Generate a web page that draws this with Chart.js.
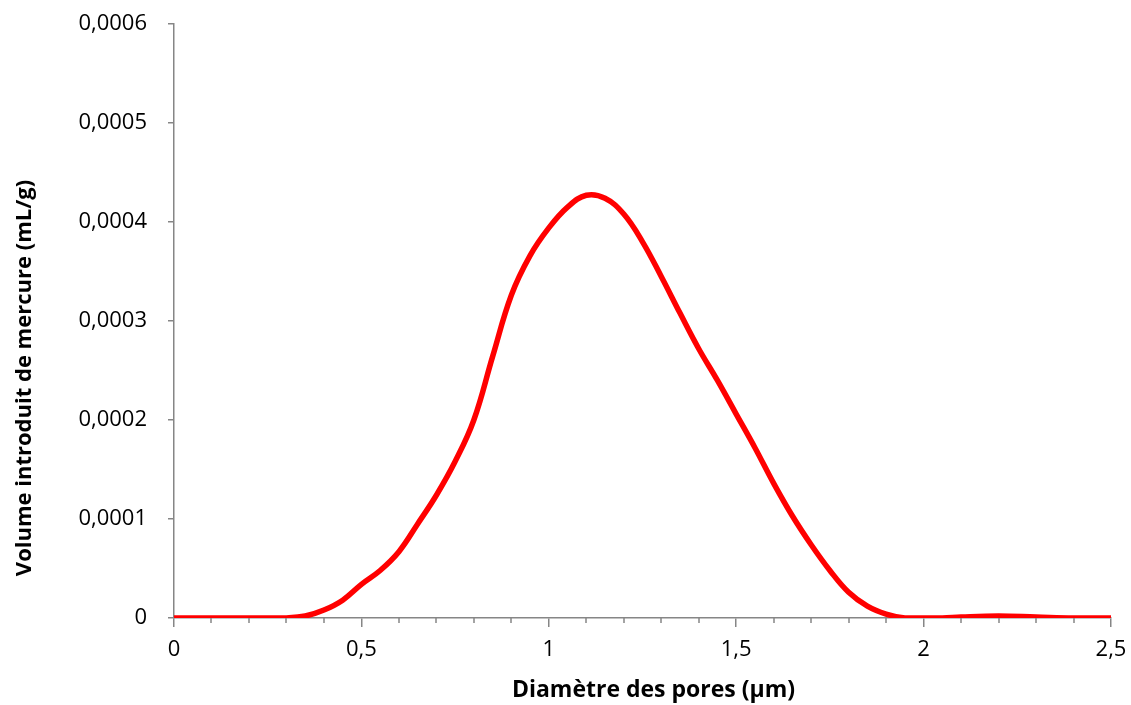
<!DOCTYPE html>
<html lang="fr">
<head>
<meta charset="utf-8">
<title>Volume introduit de mercure</title>
<script src="https://cdn.jsdelivr.net/npm/chart.js@4/dist/chart.umd.min.js"></script>
<style>
    html, body { margin: 0; padding: 0; background: #fff; }
    #wrap { width: 1131px; height: 705px; position: relative; }
</style>
</head>
<body>
<div id="wrap"><canvas id="poreChart"></canvas></div>
<script>
// Diamètre des pores (µm)
const diametres = [
    0, 0.05, 0.1, 0.15, 0.2, 0.25, 0.3, 0.35, 0.4, 0.45, 0.5, 0.55, 0.6, 0.65, 0.7,
    0.75, 0.8, 0.85, 0.9, 0.95, 1.0, 1.05, 1.1, 1.15, 1.2, 1.25, 1.3, 1.35, 1.4,
    1.45, 1.5, 1.55, 1.6, 1.65, 1.7, 1.75, 1.8, 1.85, 1.9, 1.95, 2.0, 2.05, 2.1,
    2.2, 2.3, 2.4, 2.5
];

// Volume introduit de mercure (mL/g)
const volumes = [
    0, 0, 0, 0, 0, 0, 0, 0.000002, 0.000008, 0.000018, 0.000034, 0.000048, 0.000067,
    0.000095, 0.000124, 0.000158, 0.000200, 0.000264, 0.000326, 0.000366, 0.000394,
    0.000415, 0.000427, 0.000424, 0.000408, 0.000380, 0.000345, 0.000308, 0.000272,
    0.000240, 0.000206, 0.000172, 0.000136, 0.000103, 0.000074, 0.000048, 0.000026,
    0.000012, 0.000004, 0, 0, 0, 0.000001, 0.000002, 0.000001, 0, 0
];

const xTickLabels = ['0', '0,5', '1', '1,5', '2', '2,5'];
const yTickLabels = ['0', '0,0001', '0,0002', '0,0003', '0,0004', '0,0005', '0,0006'];

const X_TITLE = 'Diamètre des pores (µm)';
const Y_TITLE = 'Volume introduit de mercure (mL/g)';

const AXIS_COLOR = '#868686';
const FONT_FAMILY = '"Open Sans", "Liberation Sans", sans-serif';

// petites graduations (tous les 0,1) sur l'axe des x
const minorTicks = {
    id: 'minorTicks',
    afterDraw(chart) {
        const xScale = chart.scales.x;
        const ctx = chart.ctx;
        const bottom = chart.chartArea.bottom;
        ctx.save();
        ctx.strokeStyle = AXIS_COLOR;
        ctx.lineWidth = 1.5;
        for (let i = 0; i <= 25; i++) {
            if (i % 5 === 0) continue;
            const px = Math.round(xScale.getPixelForValue(i / 10));
            ctx.beginPath();
            ctx.moveTo(px, bottom);
            ctx.lineTo(px, bottom + 5);
            ctx.stroke();
        }
        ctx.restore();
    }
};

// titres des axes (décalés comme dans Excel, pas tout à fait centrés)
const axisTitles = {
    id: 'axisTitles',
    afterDraw(chart) {
        const { ctx, chartArea } = chart;
        const midX = (chartArea.left + chartArea.right) / 2;
        const midY = (chartArea.top + chartArea.bottom) / 2;
        ctx.save();
        ctx.fillStyle = '#000';
        ctx.textAlign = 'center';
        ctx.textBaseline = 'middle';

        ctx.font = `bold 23px ${FONT_FAMILY}`;
        ctx.fillText(X_TITLE, midX + 11, chart.height - 15);

        ctx.font = `bold 22px ${FONT_FAMILY}`;
        ctx.translate(25, midY + 57);
        ctx.rotate(-Math.PI / 2);
        ctx.fillText(Y_TITLE, 0, 0);
        ctx.restore();
    }
};

const points = diametres.map((d, i) => ({ x: d, y: volumes[i] }));

new Chart(document.getElementById('poreChart'), {
    type: 'line',
    data: {
        datasets: [{
            label: 'Volume',
            data: points,
            borderColor: '#FF0000',
            borderWidth: 5.5,
            pointRadius: 0,
            fill: false,
            tension: 0.4
        }]
    },
    options: {
        responsive: true,
        maintainAspectRatio: false,
        animation: false,
        layout: {
            padding: { top: 24, right: 20, left: 0, bottom: 0 }
        },
        plugins: {
            legend: { display: false },
            tooltip: { enabled: false }
        },
        scales: {
            x: {
                type: 'linear',
                min: 0,
                max: 2.5,
                afterFit: (scale) => {
                    scale.height = 87;
                    scale.paddingLeft = 0;
                    scale.paddingRight = 0;
                },
                border: { color: AXIS_COLOR, width: 1.5 },
                grid: {
                    drawOnChartArea: false,
                    drawTicks: true,
                    tickLength: 9,
                    color: AXIS_COLOR,
                    lineWidth: 1.5
                },
                ticks: {
                    stepSize: 0.5,
                    maxRotation: 0,
                    padding: 10,
                    color: '#000',
                    font: { family: FONT_FAMILY, size: 22 },
                    callback: (value) => xTickLabels[Math.round(value * 2)] ?? ''
                }
            },
            y: {
                type: 'linear',
                min: 0,
                max: 0.0006,
                afterFit: (scale) => {
                    scale.width = 174;
                    scale.paddingTop = 0;
                    scale.paddingBottom = 0;
                },
                border: { color: AXIS_COLOR, width: 1.5 },
                grid: {
                    drawOnChartArea: false,
                    drawTicks: true,
                    tickLength: 6,
                    color: AXIS_COLOR,
                    lineWidth: 1.5
                },
                ticks: {
                    stepSize: 0.0001,
                    padding: 21,
                    color: '#000',
                    font: { family: FONT_FAMILY, size: 22 },
                    callback: (value) => yTickLabels[Math.round(value * 10000)] ?? ''
                }
            }
        }
    },
    plugins: [minorTicks, axisTitles]
});
</script>
</body>
</html>
